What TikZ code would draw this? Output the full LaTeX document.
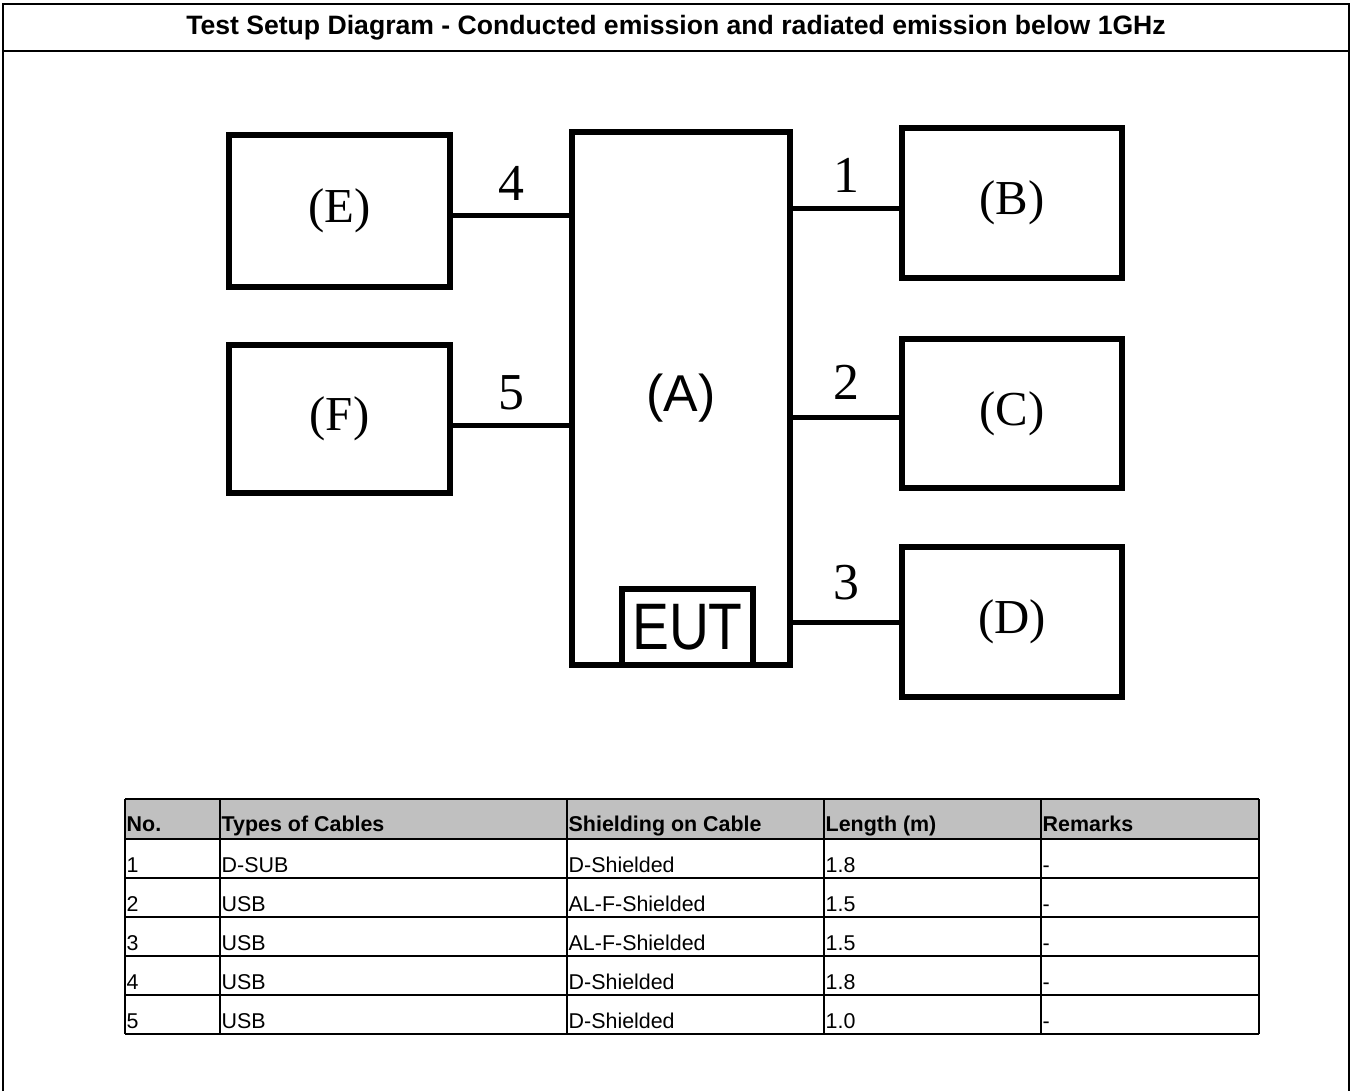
\documentclass[tikz,border=0pt]{standalone}
\usepackage{fontspec}
\setmainfont{Liberation Sans}
\newfontfamily\serifnum{Liberation Serif}
\usepackage{graphicx}
\usetikzlibrary{positioning}
\definecolor{headgray}{HTML}{C0C0C0}

\begin{document}
\begin{tikzpicture}[x=1bp,y=-1bp,
    unit/.style={draw,line width=5.5bp,minimum width=221bp,minimum height=150bp,inner sep=0pt,font=\serifnum\fontsize{49}{49}\selectfont},
    cable/.style={line width=5bp},
    num/.style={font=\serifnum\fontsize{52}{52}\selectfont,inner sep=0pt},
    grid/.style={line width=1.6bp},
    cell/.style={anchor=base west,inner sep=0pt,font=\fontsize{21.5}{21.5}\selectfont},
    head/.style={anchor=base west,inner sep=0pt,font=\bfseries\fontsize{21.5}{21.5}\selectfont}]
    \useasboundingbox (0,0) rectangle (1355,1091);

    % frame and title
    \draw[line width=2bp] (3,1091) -- (3,4) -- (1349,4) -- (1349,1091);
    \draw[line width=2bp] (3,51) -- (1349,51);
    \node[font=\bfseries\fontsize{26.7}{26.7}\selectfont] (title) at (676,28) {Test Setup Diagram - Conducted emission and radiated emission below 1GHz};

    % setup
    \node[draw,line width=5.5bp,minimum width=218bp,minimum height=533bp,inner sep=0pt,font=\fontsize{52}{52}\selectfont] (a) at (681,398.5) {(A)};
    \node[draw,line width=5.5bp,minimum width=131bp,minimum height=76bp,inner sep=0pt,font=\fontsize{66}{66}\selectfont] (eut) at (687.5,627) {\scalebox{0.84}[1]{EUT}};
    \node[unit,minimum height=152bp] (e) at (339.5,211) {(E)};
    \node[unit,minimum height=148bp] (f) at (339.5,419) {(F)};
    \node[unit,minimum width=220bp] (b) at (1012,203) {(B)};
    \node[unit,minimum width=220bp,minimum height=149bp] (c) at (1012,413.5) {(C)};
    \node[unit,minimum width=220bp] (d) at (1012,622) {(D)};

    \draw[cable] ([yshift=-4bp]e.east) -- node[num,above=12bp] (n4) {4} ([yshift=-4bp]e.east -| a.west);
    \draw[cable] ([yshift=-6bp]f.east) -- node[num,above=13bp] (n5) {5} ([yshift=-6bp]f.east -| a.west);
    \draw[cable] ([yshift=-5bp]b.west -| a.east) -- node[num,above=13bp] (n1) {1} ([yshift=-5bp]b.west);
    \draw[cable] ([yshift=-3.5bp]c.west -| a.east) -- node[num,above=15bp] (n2) {2} ([yshift=-3.5bp]c.west);
    \draw[cable] (d.west -| a.east) -- node[num,above=20bp] (n3) {3} (d.west);

    % cable table
    \fill[headgray] (125,799) rectangle (1259,839);
    \foreach \y in {799,839,878,917,956,995,1034}
        \draw[grid] (125,\y) -- (1259,\y);
    \foreach \x in {125,220,567,824,1041,1259}
        \draw[grid] (\x,799) -- (\x,1034);
    \foreach \x/\txt [count=\j] in {125/No.,220/Types of Cables,567/Shielding on Cable,824/Length (m),1041/Remarks}
        \node[head] (h\j) at (\x+1.5,831) {\txt};
    \foreach \no/\typ/\shd/\len [count=\r] in {1/D-SUB/D-Shielded/1.8,2/USB/AL-F-Shielded/1.5,3/USB/AL-F-Shielded/1.5,4/USB/D-Shielded/1.8,5/USB/D-Shielded/1.0}
    {
        \pgfmathsetmacro\yb{833+39*\r}
        \node[cell] (no\r) at (126.5,\yb) {\no};
        \node[cell] (typ\r) at (221.5,\yb) {\typ};
        \node[cell] (shd\r) at (568.5,\yb) {\shd};
        \node[cell] (len\r) at (825.5,\yb) {\len};
        \node[cell] (rem\r) at (1042.5,\yb) {-};
    }
\end{tikzpicture}
\end{document}
